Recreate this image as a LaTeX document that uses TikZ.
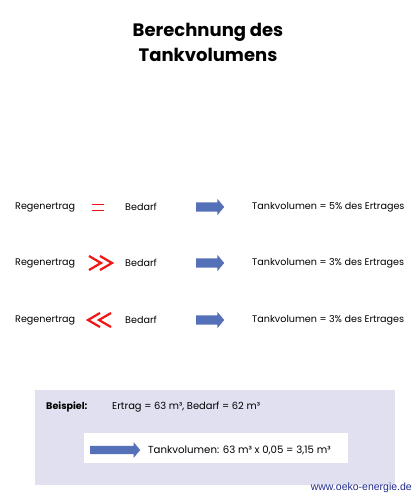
\documentclass[tikz,border=0pt]{standalone}
\usepackage{fontspec}
\setmainfont{Poppins}
\newfontfamily\webfont{Liberation Sans}
\usetikzlibrary{shapes.arrows,positioning}
\definecolor{arrowblue}{RGB}{84,112,184}
\definecolor{boxlav}{RGB}{224,224,240}
\definecolor{linkblue}{RGB}{30,40,140}
\definecolor{signred}{RGB}{240,20,20}
\begin{document}
\begin{tikzpicture}[x=1pt,y=-1pt,
    txt/.style={anchor=west, inner sep=0pt, font=\fontsize{9.6}{11}\selectfont},
    blockarrow/.style={single arrow, fill=arrowblue, inner xsep=0pt, inner ysep=4.5pt,
                       single arrow head extend=3.5pt, single arrow tip angle=100,
                       minimum height=28pt, anchor=west},
    sign/.style={draw=signred, line width=2.2pt}
  ]
  \useasboundingbox (0,0) rectangle (417,495);
  % title
  \node[font=\bfseries\fontsize{18}{25}\selectfont, align=center] (title) at (208,42)
    {Berechnung des\\Tankvolumens};
  % three cases
  \foreach \n/\y/\pc in {1/207/5, 2/263/3, 3/320/3} {
    \node[txt] (ertrag\n) at (15,\y) {Regenertrag};
    \node[txt] (bedarf\n) at (125,\y) {Bedarf};
    \node[blockarrow] (pfeil\n) at (196,\y) {};
    \node[txt] (ergebnis\n) at (252,\y) {Tankvolumen = \pc\% des Ertrages};
  }
  % red signs
  \draw[signred, line width=1.3pt] (92,204.5) -- (104,204.5) (92,210.5) -- (104,210.5);
  \draw[sign] (89,256) -- (101,263) -- (89,270) (100,256) -- (112,263) -- (100,270);
  \draw[sign] (100,313) -- (88,320) -- (100,327) (111,313) -- (99,320) -- (111,327);
  % example box
  \node[fill=boxlav, minimum width=360pt, minimum height=95pt, inner sep=0pt] (beispielbox) at (215,437.5) {};
  \node[txt, font=\bfseries\fontsize{9.6}{11}\selectfont] (beispiel) at (46,407) {Beispiel:};
  \node[txt, font=\fontsize{9.9}{11}\selectfont] (werte) at (112,407) {Ertrag = 63 m³, Bedarf = 62 m³};
  \node[fill=white, minimum width=264pt, minimum height=30pt, inner sep=0pt] (rechnung) at (216,448) {};
  \node[blockarrow, minimum height=50pt, inner ysep=4pt, single arrow head extend=3.5pt] (pfeil4) at (90,450) {};
  \node[txt, font=\fontsize{10.2}{12}\selectfont] (ergebnis4) at (148,450) {Tankvolumen: 63 m³ x 0,05 = 3,15 m³};
  \node[anchor=east, inner sep=0pt, text=linkblue, font=\webfont\fontsize{10.5}{12}\selectfont] (web) at (412,488) {www.oeko-energie.de};
\end{tikzpicture}
\end{document}
